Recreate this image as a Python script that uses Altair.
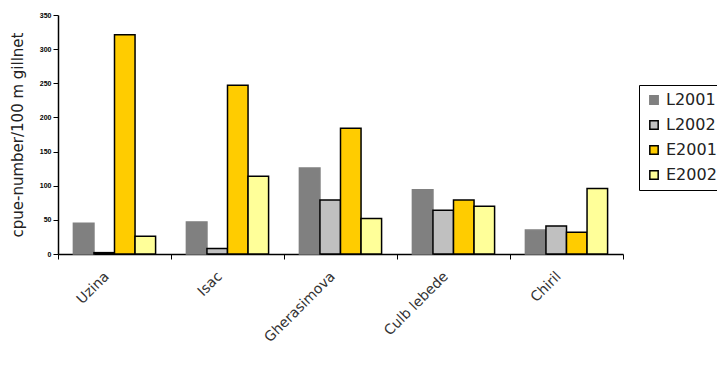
import altair as alt
import pandas as pd

sites = ["Uzina", "Isac", "Gherasimova", "Culb lebede", "Chiril"]
series = ["L2001", "L2002", "E2001", "E2002"]
L2001 = [45, 47, 126, 94, 35]
L2002 = [2, 8, 79, 64, 41]
E2001 = [321, 247, 184, 79, 32]
E2002 = [26, 114, 52, 70, 96]
fills = ["#808080", "#C0C0C0", "#FFCC00", "#FFFF99"]
strokes = ["#808080", "#000000", "#000000", "#000000"]

rows = []
for s, vals in zip(series, [L2001, L2002, E2001, E2002]):
    for site, v in zip(sites, vals):
        rows.append({"site": site, "series": s, "value": v})
df = pd.DataFrame(rows)

legend_opts = dict(title=None, orient="none", legendX=581, legendY=70,
                   symbolType="square", symbolSize=70, symbolStrokeWidth=1.5,
                   labelFontSize=16, labelFont="DejaVu Sans", labelColor="#222222",
                   labelOffset=4, rowPadding=9, strokeColor="black", padding=7)

chart = alt.Chart(df).mark_bar(strokeWidth=1.5).encode(
    x=alt.X("site:N", sort=sites, title=None,
            scale=alt.Scale(paddingInner=0, paddingOuter=0),
            axis=alt.Axis(tickBand="extent", labelAngle=-45, labelAlign="right",
                          labelBaseline="middle", labelOffset=-8, labelPadding=15,
                          labelFontSize=14, labelFont="DejaVu Sans", labelColor="#333333",
                          tickSize=5, tickColor="black", domainColor="black",
                          domainWidth=1.5, grid=False)),
    xOffset=alt.XOffset("series:N", sort=series,
                        scale=alt.Scale(paddingOuter=0.75, paddingInner=0)),
    y=alt.Y("value:Q", title="cpue-number/100 m gillnet",
            scale=alt.Scale(domain=[0, 350], nice=False),
            axis=alt.Axis(values=[0, 50, 100, 150, 200, 250, 300, 350],
                          labelFontSize=7, labelFontWeight="bold", labelColor="black",
                          labelPadding=2, tickSize=5, tickColor="black",
                          domainColor="black", domainWidth=1.5, grid=False,
                          titleFontSize=15, titleFont="DejaVu Sans",
                          titleFontWeight="normal", titleColor="#222222",
                          titlePadding=14)),
    fill=alt.Fill("series:N", sort=series,
                  scale=alt.Scale(domain=series, range=fills),
                  legend=alt.Legend(**legend_opts)),
    stroke=alt.Stroke("series:N", sort=series,
                      scale=alt.Scale(domain=series, range=strokes),
                      legend=alt.Legend(**legend_opts)),
).properties(
    width=565, height=239,
    background="white",
    autosize=alt.AutoSizeParams(type="none"),
    padding={"left": 50, "top": 7, "right": 94, "bottom": 110},
).configure_view(stroke=None)

chart.save("out.html", embed_options={"renderer": "svg", "actions": False})
